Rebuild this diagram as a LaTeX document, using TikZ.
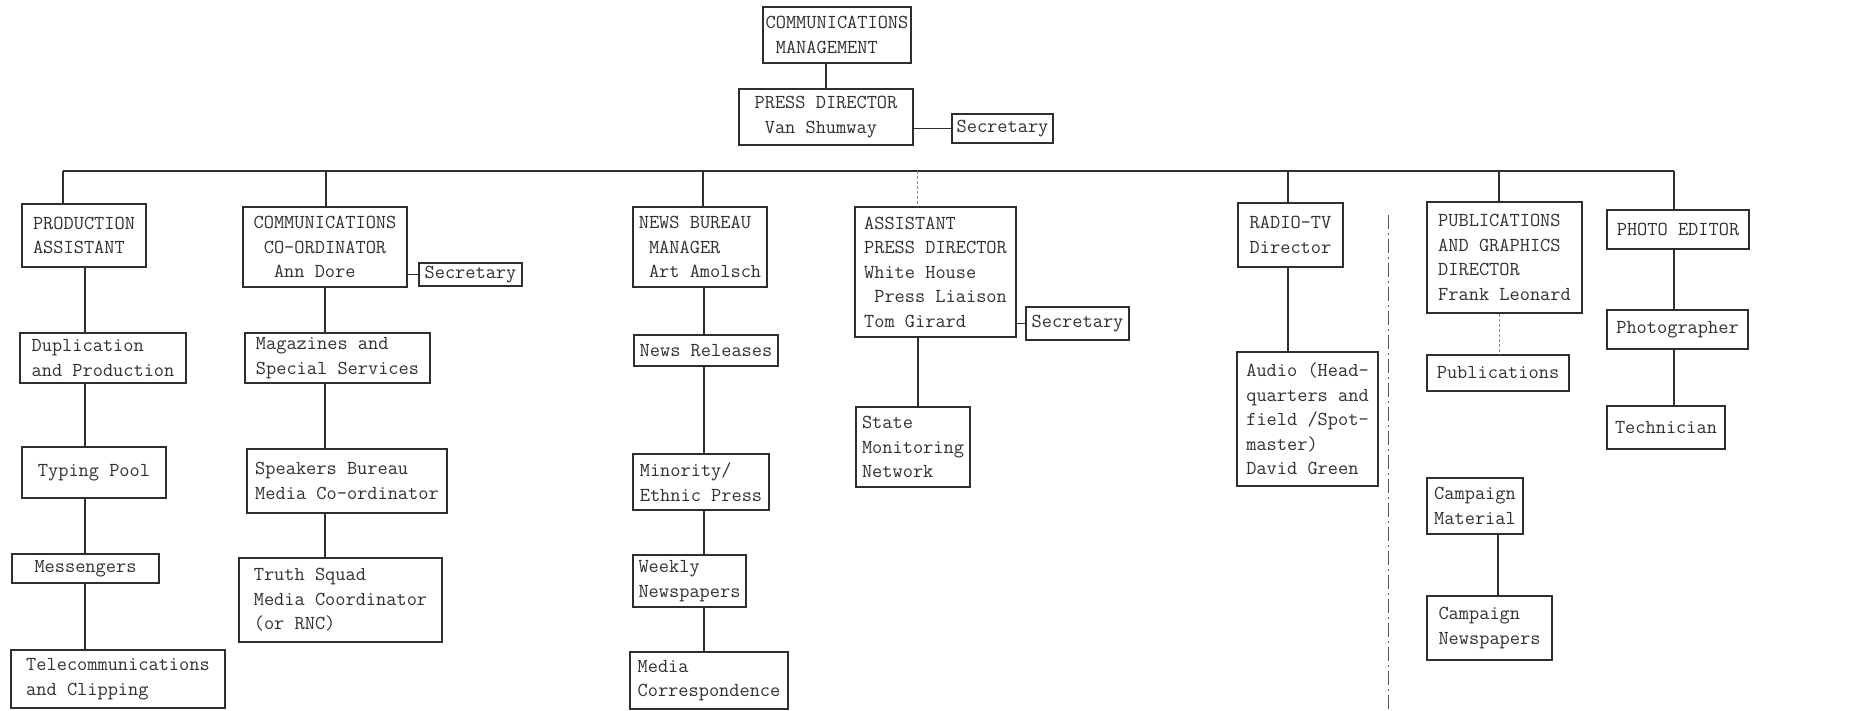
\documentclass[tikz,border=0pt]{standalone}
\usepackage{fontspec}
\usetikzlibrary{positioning}
\definecolor{inkGrey}{HTML}{2e2e2e}
\definecolor{inkText}{HTML}{303030}
\newcommand{\typer}{\ttfamily\fontsize{19.8}{24.5}\selectfont}
\tikzset{
  post/.style={draw=inkGrey, line width=1.2pt, align=left, font=\typer,
              text=inkText, inner sep=1pt},
  link/.style={draw=inkGrey, line width=1.2pt},
  faint/.style={draw=inkGrey!55, line width=1pt, densely dashed},
  divider/.style={draw=inkGrey!80, line width=1pt,
              dash pattern=on 14pt off 4pt on 2pt off 4pt},
}

\begin{document}
\begin{tikzpicture}[x=1pt,y=-1pt]
        \useasboundingbox (0,0) rectangle (1860,711);
        % top of the chart
        \node[post,minimum width=148pt,minimum height=56pt] (mgmt) at (837,35) {COMMUNICATIONS\\~MANAGEMENT};
        \node[post,minimum width=174pt,minimum height=56pt] (press) at (826,117) {PRESS DIRECTOR\\~Van Shumway};
        \node[post,minimum width=101pt,minimum height=29pt] (sec0) at (1002.5,128.5) {Secretary};
        \draw[link] (press.north |- mgmt.south) -- (press.north);
        \draw[link] (sec0.west) -- (sec0.west -| press.east);
        % heads of the divisions
        \node[post,minimum width=124pt,minimum height=63pt] (prod) at (84,235.5) {PRODUCTION\\ASSISTANT};
        \node[post,minimum width=164pt,minimum height=80pt] (coord) at (325,247) {COMMUNICATIONS\\~CO-ORDINATOR\\~~Ann Dore};
        \node[post,minimum width=103pt,minimum height=23pt] (sec1) at (470.5,274.5) {Secretary};
        \node[post,minimum width=134pt,minimum height=80pt] (news) at (700,247) {NEWS BUREAU\\~MANAGER\\~Art Amolsch};
        \node[post,minimum width=161pt,minimum height=130pt] (asst) at (935.5,272) {ASSISTANT\\PRESS DIRECTOR\\White House\\~Press Liaison\\Tom Girard};
        \node[post,minimum width=103pt,minimum height=33pt] (sec2) at (1077.5,323.5) {Secretary};
        \node[post,minimum width=105pt,minimum height=64pt] (radio) at (1290.5,235) {RADIO-TV\\Director};
        \node[post,minimum width=155pt,minimum height=111pt] (pubdir) at (1504.5,257.5) {PUBLICATIONS\\AND GRAPHICS\\DIRECTOR\\Frank Leonard};
        \node[post,minimum width=142pt,minimum height=39pt] (photo) at (1678,229.5) {PHOTO EDITOR};
        \draw[link] (sec1.west) -- (sec1.west -| coord.east);
        \draw[link] (sec2.west) -- (sec2.west -| asst.east);
        % bus and drops
        \coordinate (busL) at (63,171);
        \coordinate (busR) at (1674,171);
        \draw[link] (busL) -- (busR);
        \foreach \n/\x in {prod/63,coord/326,news/703,radio/1288,pubdir/1499,photo/1674}{
          \draw[link] (\x,171) -- (\x,171 |- \n.north);}
        \draw[faint] (917,171) -- (917,171 |- asst.north);
        % units
        \node[post,minimum width=166pt,minimum height=50pt] (dup) at (103,358) {Duplication\\and Production};
        \node[post,minimum width=144pt,minimum height=51pt] (typing) at (94,472.5) {Typing Pool};
        \node[post,minimum width=147pt,minimum height=29pt] (mess) at (85.5,568.5) {Messengers};
        \node[post,minimum width=214pt,minimum height=58pt] (tele) at (118,679) {Telecommunications\\and Clipping};
        \node[post,minimum width=185pt,minimum height=50pt] (mag) at (337.5,358) {Magazines and\\Special Services};
        \node[post,minimum width=200pt,minimum height=64pt] (speak) at (347,481) {Speakers Bureau\\Media Co-ordinator};
        \node[post,minimum width=203pt,minimum height=84pt] (truth) at (340.5,600) {Truth Squad\\Media Coordinator\\(or RNC)};
        \node[post,minimum width=144pt,minimum height=31pt] (rel) at (706,350.5) {News Releases};
        \node[post,minimum width=136pt,minimum height=56pt] (minor) at (701,482) {Minority/\\Ethnic Press};
        \node[post,minimum width=113pt,minimum height=52pt] (weekly) at (689.5,581) {Weekly\\Newspapers};
        \node[post,minimum width=158pt,minimum height=57pt] (corr) at (709,680.5) {Media\\Correspondence};
        \node[post,minimum width=114pt,minimum height=80pt] (state) at (913,447) {State\\Monitoring\\Network};
        \node[post,minimum width=141pt,minimum height=134pt] (audio) at (1307.5,419) {Audio (Head-\\quarters and\\field /Spot-\\master)\\David Green};
        \node[post,minimum width=142pt,minimum height=36pt] (pubs) at (1498,373) {Publications};
        \node[post,minimum width=96pt,minimum height=56pt] (cmat) at (1475,506) {Campaign\\Material};
        \node[post,minimum width=125pt,minimum height=64pt] (cnews) at (1489.5,628) {Campaign\\Newspapers};
        \node[post,minimum width=141pt,minimum height=39pt] (photog) at (1677.5,329.5) {Photographer};
        \node[post,minimum width=118pt,minimum height=43pt] (tech) at (1666,427.5) {Technician};
        % lines down each column
        \foreach \a/\b/\x in {prod/dup/85,dup/typing/85,typing/mess/85,mess/tele/85,
                              coord/mag/325,mag/speak/325,speak/truth/325,
                              news/rel/704,rel/minor/704,minor/weekly/704,weekly/corr/704,
                              asst/state/918,radio/audio/1288,cmat/cnews/1498,
                              photo/photog/1674,photog/tech/1674}{
          \draw[link] (\x,0 |- \a.south) -- (\x,0 |- \b.north);}
        \draw[faint] (1499,0 |- pubdir.south) -- (1499,0 |- pubs.north);
        \draw[divider] (1388,215) -- (1388,711);
      \end{tikzpicture}
\end{document}
